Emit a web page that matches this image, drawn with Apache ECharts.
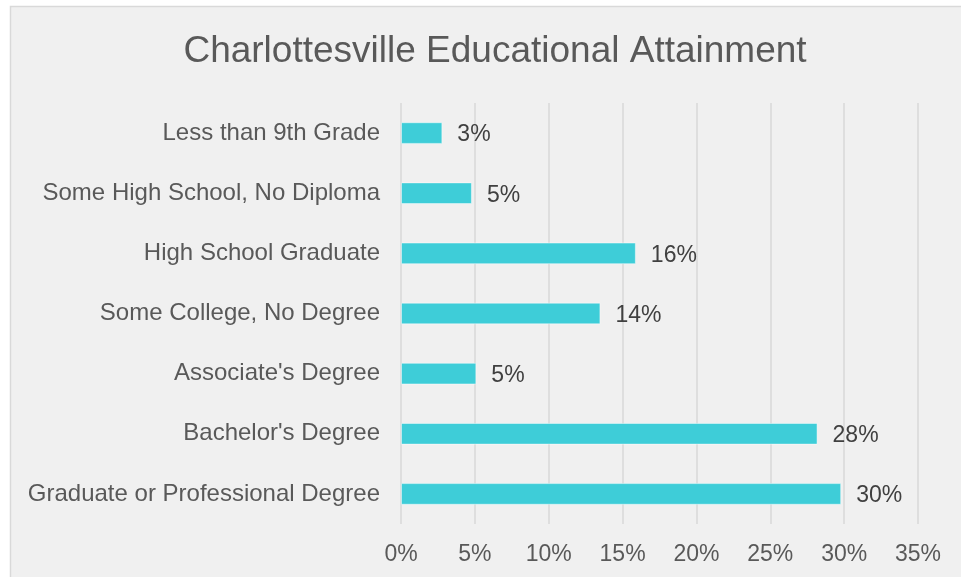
<!DOCTYPE html>
<html>
<head>
<meta charset="utf-8">
<script src="https://cdn.jsdelivr.net/npm/echarts@6/dist/echarts.min.js"></script>
<style>
  html, body { margin: 0; padding: 0; background: #ffffff; }
  #chart { width: 961px; height: 577px; }
</style>
</head>
<body>
<div id="chart"></div>
<script>
// Educational attainment shares (percent of population 25+)
const categories = [
  "Less than 9th Grade",
  "Some High School, No Diploma",
  "High School Graduate",
  "Some College, No Degree",
  "Associate's Degree",
  "Bachelor's Degree",
  "Graduate or Professional Degree"
];
const shares = [2.8, 4.8, 15.9, 13.5, 5.1, 28.2, 29.8];
const axisTicks = [0, 5, 10, 15, 20, 25, 30, 35];

const chart = echarts.init(document.getElementById('chart'), null, { renderer: 'canvas' });
const font = '"Liberation Sans", Arial, sans-serif';

chart.setOption({
  backgroundColor: '#ffffff',
  animation: false,
  graphic: [{
    type: 'rect',
    z: -10,
    silent: true,
    shape: { x: 10.5, y: 6.5, width: 1000, height: 620 },
    style: { fill: '#f0f0f0', stroke: '#d9d9d9', lineWidth: 1.5 }
  }],
  title: {
    text: 'Charlottesville Educational Attainment',
    left: 490,
    textAlign: 'center',
    top: 28,
    textStyle: { fontFamily: font, fontSize: 37, fontWeight: 'normal', color: '#595959' }
  },
  grid: { left: 401, right: 43, top: 103, bottom: 53, containLabel: false },
  xAxis: {
    type: 'value',
    min: axisTicks[0],
    max: axisTicks[axisTicks.length - 1],
    interval: axisTicks[1] - axisTicks[0],
    axisLine: { show: false },
    axisTick: { show: false },
    splitLine: { lineStyle: { color: '#d9d9d9', width: 1.5 } },
    axisLabel: {
      margin: 19,
      fontFamily: font, fontSize: 23, color: '#595959',
      formatter: v => v + '%'
    }
  },
  yAxis: {
    type: 'category',
    data: categories,
    inverse: true,
    axisLine: { show: false },
    axisTick: { show: false },
    splitLine: { show: false },
    axisLabel: { margin: 21, padding: [4, 0, 0, 0], fontFamily: font, fontSize: 24, color: '#595959' }
  },
  series: [{
    type: 'bar',
    data: shares,
    barWidth: '36%',
    itemStyle: { color: '#3ecdd8', borderColor: 'rgba(255,255,255,0.45)', borderWidth: 1 },
    label: {
      show: true,
      position: 'right',
      distance: 15,
      offset: [0, 2],
      fontFamily: font, fontSize: 23, color: '#404040',
      formatter: p => Math.round(p.value) + '%'
    }
  }]
});
</script>
</body>
</html>
